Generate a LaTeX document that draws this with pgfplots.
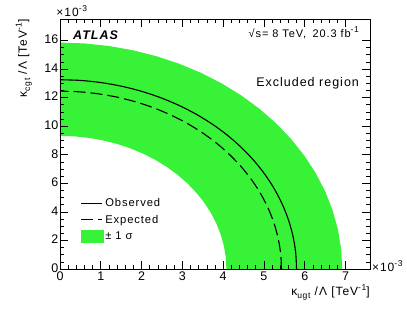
\documentclass[border=0pt]{standalone}
\usepackage{pgfplots}
\pgfplotsset{compat=1.18}
\usepackage{fontspec}
\setmainfont{Liberation Sans}
\newfontfamily\ls[LetterSpace=8]{Liberation Sans}
\newcommand\fs[1]{\ls\fontsize{#1}{#1}\selectfont}
\newcommand\sups[1]{\raisebox{0.42em}{\fontsize{8.5}{8.5}\selectfont #1}}
\newcommand\subs[1]{\raisebox{-0.28em}{\fontsize{8.5}{8.5}\selectfont #1}}
\definecolor{bandgreen}{RGB}{55,242,55}
\begin{document}
\begin{tikzpicture}
\begin{axis}[
  scale only axis, width=310pt, height=250pt,
  xmin=0, xmax=7.6, ymin=0, ymax=17.5,
  clip=false,
  xtick={0,1,...,7}, ytick={0,2,...,16},
  minor x tick num=4, minor y tick num=3,
  tick align=inside, tick pos=both,
  major tick length=8pt, minor tick length=4pt,
  axis line style={line width=0.7pt}, every tick/.style={line width=0.6pt, black},
  axis on top,
  /pgf/number format/assume math mode=true,
  tick label style={font=\fontsize{12.5}{13}\selectfont},
  xticklabel style={inner sep=1pt, yshift=-2pt},
  yticklabel style={inner sep=1.5pt, yshift=1pt},
  xlabel={κ\subs{ugt} /Λ [TeV\sups{-1}]},
  xlabel style={font=\fs{12}, at={(axis description cs:1,0)}, anchor=north east, inner sep=0pt, yshift=-15pt},
  ylabel={κ\subs{cgt} /Λ [TeV\sups{-1}]},
  ylabel style={font=\fs{12}, at={(axis description cs:-0.09,1)}, anchor=south east, inner sep=0pt},
  legend style={at={(axis cs:0.5,5.1)}, anchor=north west, draw=none, fill=none, font=\fs{11.2}, inner sep=0pt, row sep=3pt, /tikz/every even column/.append style={column sep=4pt}},
  legend cell align=left,
  legend image code/.code={\draw[#1] (0pt,0pt) -- (21pt,0pt);},
]
% +-1 sigma band (outer ellipse then inner ellipse)
\addplot[fill=bandgreen, draw=none, forget plot] coordinates {
(6.920,0) (6.8936,1.3815) (6.8149,2.7524) (6.6842,4.1023) (6.5027,5.4210) (6.2717,6.6985) (5.9929,7.925) (5.6685,9.0912) (5.3010,10.1882) (4.8932,11.2077) (4.4481,12.1417) (3.9692,12.9835) (3.46,13.7266) (2.9245,14.3650) (2.3668,14.8941) (1.7910,15.3100) (1.2017,15.6092) (0.6031,15.7896) (0,15.85)
(0,9.32) (0.3556,9.2845) (0.7085,9.1784) (1.0560,9.0025) (1.3954,8.7579) (1.7243,8.4468) (2.04,8.0714) (2.3402,7.6345) (2.6226,7.1395) (2.8850,6.5903) (3.1254,5.9908) (3.3421,5.3458) (3.5334,4.66) (3.6977,3.9388) (3.8339,3.1876) (3.9410,2.4122) (4.0180,1.6184) (4.0645,0.8123) (4.08,0)
} -- cycle;
% Observed
\addplot[black, line width=1.1pt, smooth] coordinates {
(5.8,0) (5.7779,1.1549) (5.7119,2.3009) (5.6024,3.4294) (5.4502,4.5318) (5.2566,5.5997) (5.0230,6.625) (4.7511,7.6000) (4.4430,8.5170) (4.1012,9.3692) (3.7282,10.1500) (3.3268,10.8537) (2.9,11.4749) (2.4512,12.0086) (1.9837,12.4509) (1.5012,12.7986) (1.0072,13.0487) (0.5055,13.1995) (0,13.25)
};
\addlegendentry{Observed}
% Expected
\addplot[black, line width=1.1pt, smooth, dash pattern=on 12pt off 5pt] coordinates {
(5.43,0) (5.4093,1.0851) (5.3475,2.1619) (5.2450,3.2223) (5.1025,4.2581) (4.9213,5.2616) (4.7025,6.225) (4.4480,7.1411) (4.1596,8.0027) (3.8396,8.8035) (3.4903,9.5372) (3.1145,10.1984) (2.715,10.7821) (2.2948,11.2836) (1.8572,11.6991) (1.4054,12.0258) (0.9429,12.2609) (0.4733,12.4026) (0,12.45)
};
\addlegendentry{Expected}
\addlegendimage{legend image code/.code={\fill[bandgreen] (0pt,-6pt) rectangle (22pt,6pt);}}
\addlegendentry{± 1 σ}
\node[font=\fs{12.5}\bfseries\itshape, anchor=west, inner sep=0pt] at (axis description cs:0.042,0.936) {ATLAS};
\node[font=\fs{11}, anchor=east, inner sep=0pt] at (axis description cs:0.965,0.944) {√s= 8 TeV,\hspace{0.6em}20.3 fb\sups{-1}};
\node[font=\fs{12.5}, anchor=east, inner sep=0pt] at (axis description cs:0.965,0.744) {Excluded region};
\node[font=\fs{12}, anchor=south west, inner sep=0pt] at (axis description cs:-0.012,1.007) {×10\sups{-3}};
\node[font=\fs{12}, anchor=west, inner sep=0pt] at (axis description cs:1.006,0.01) {×10\sups{-3}};
\end{axis}
\pgfresetboundingbox
\useasboundingbox (-60pt,-53pt) rectangle (347pt,269pt);
\end{tikzpicture}
\end{document}
